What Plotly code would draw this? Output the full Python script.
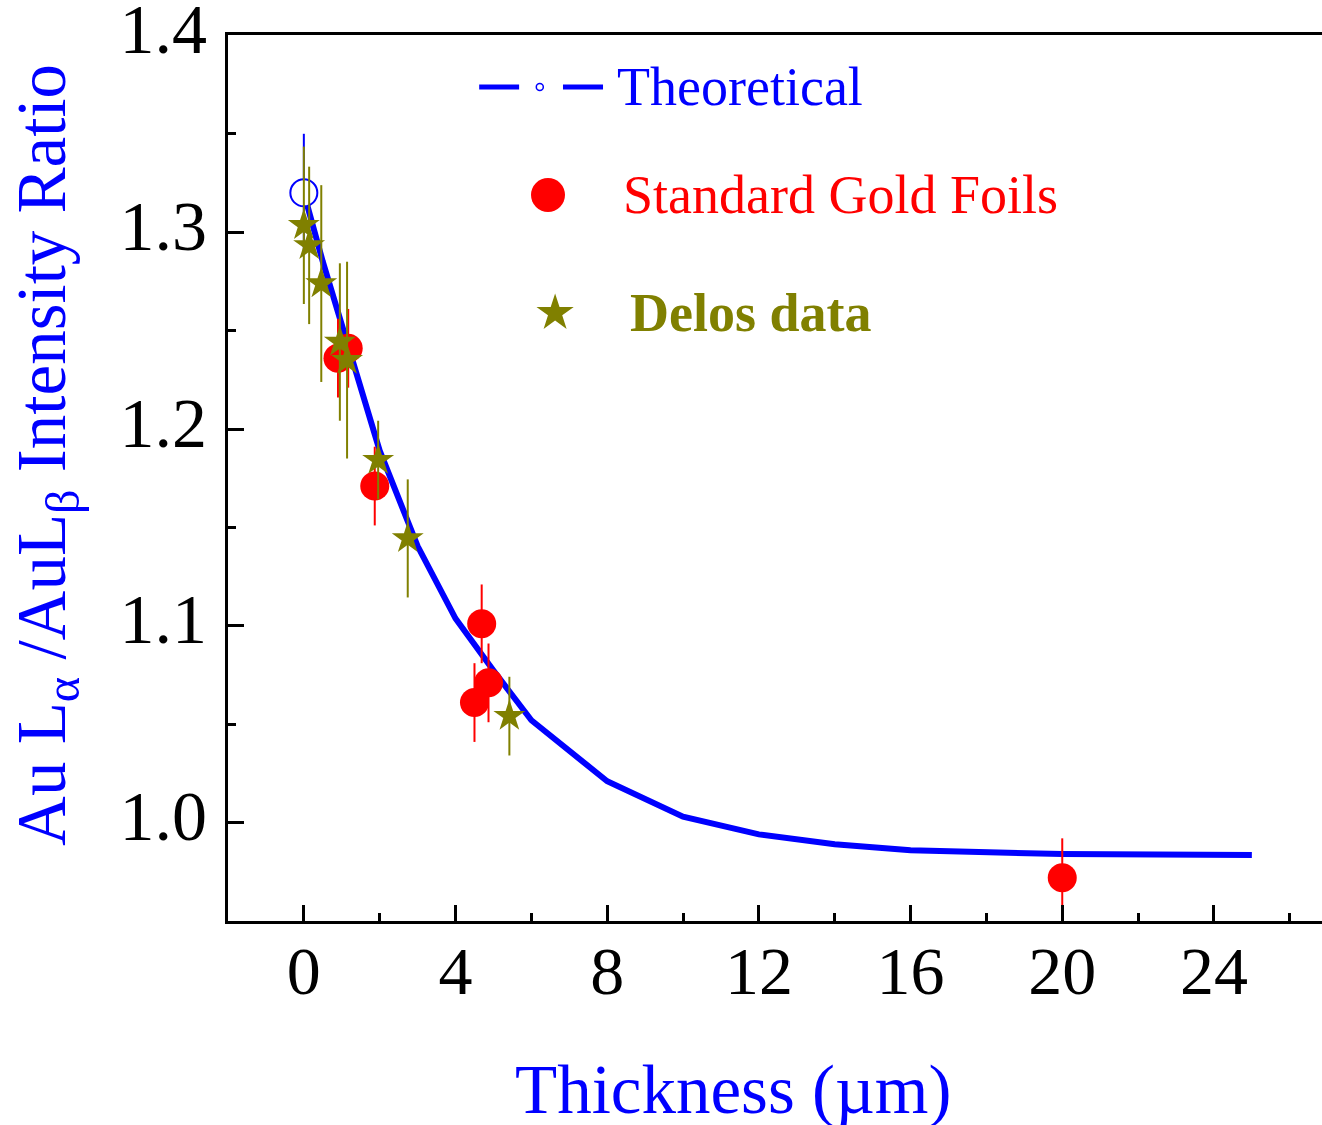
import plotly.graph_objects as go

# Theoretical Au La/Lb intensity ratio versus foil thickness
theo_x = [0, 0.5, 1, 1.5, 2, 3, 4, 5, 6, 8, 10, 12, 14, 16, 18, 20, 25]
theo_y = [1.32, 1.285, 1.253, 1.221, 1.189, 1.1405, 1.1037, 1.0773, 1.052,
          1.021, 1.003, 0.994, 0.989, 0.986, 0.985, 0.984, 0.9835]
theo_err0 = 0.03  # uncertainty on the zero-thickness theoretical value

# Measured standard gold foils
gold_x = [0.9, 1.17, 1.87, 4.5, 4.69, 4.87, 20]
gold_y = [1.236, 1.241, 1.171, 1.061, 1.101, 1.071, 0.972]
gold_err = [0.02, 0.02, 0.02, 0.02, 0.02, 0.02, 0.02]

# Delos data
delos_x = [0, 0.14, 0.46, 0.95, 1.14, 1.96, 2.74, 5.42]
delos_y = [1.3035, 1.2933, 1.2739, 1.2442, 1.235, 1.1842, 1.1444, 1.0541]
delos_err = [0.04, 0.04, 0.05, 0.04, 0.05, 0.02, 0.03, 0.02]

# Axis ticks
x_ticks = [0, 4, 8, 12, 16, 20, 24]
y_ticks = [1.0, 1.1, 1.2, 1.3, 1.4]

BLUE = "#0000FF"
RED = "#FF0000"
OLIVE = "#808000"
SERIF = "Liberation Serif, Times New Roman, serif"

fig = go.Figure()

fig.add_trace(go.Scatter(
    x=theo_x, y=theo_y, mode="lines",
    line=dict(color=BLUE, width=6), showlegend=False, hoverinfo="skip"))

fig.add_trace(go.Scatter(
    x=theo_x[:1], y=theo_y[:1], mode="markers",
    marker=dict(symbol="circle", size=27, color="white",
                line=dict(color=BLUE, width=2)),
    error_y=dict(type="data", array=[theo_err0], color=BLUE,
                 thickness=2, width=0),
    showlegend=False))

fig.add_trace(go.Scatter(
    x=gold_x, y=gold_y, mode="markers",
    marker=dict(symbol="circle", size=29, color=RED),
    error_y=dict(type="data", array=gold_err, color=RED,
                 thickness=2, width=0),
    showlegend=False))

fig.add_trace(go.Scatter(
    x=delos_x, y=delos_y, mode="markers",
    marker=dict(symbol="star", size=24, color=OLIVE),
    error_y=dict(type="data", array=delos_err, color=OLIVE,
                 thickness=2, width=0),
    showlegend=False))

# Legend keys, drawn on an overlay axis spanning the plot area as 0..1
key_x = [0.285, 0.2925, 0.299]
key_y = [0.9413, 0.8194, 0.6862]
fig.add_trace(go.Scatter(
    x=key_x[:1], y=key_y[:1], xaxis="x2", yaxis="y2", mode="markers",
    marker=dict(symbol="circle-open", size=7, color=BLUE,
                line=dict(width=1.5, color=BLUE)),
    showlegend=False, hoverinfo="skip"))
fig.add_trace(go.Scatter(
    x=key_x[1:2], y=key_y[1:2], xaxis="x2", yaxis="y2", mode="markers",
    marker=dict(symbol="circle", size=34, color=RED),
    showlegend=False, hoverinfo="skip"))
fig.add_trace(go.Scatter(
    x=key_x[2:], y=key_y[2:], xaxis="x2", yaxis="y2", mode="markers",
    marker=dict(symbol="star", size=28, color=OLIVE),
    showlegend=False, hoverinfo="skip"))

shapes = [
    dict(type="line", xref="paper", yref="paper",
         x0=0.2296, x1=0.2661, y0=key_y[0], y1=key_y[0],
         line=dict(color=BLUE, width=5)),
    dict(type="line", xref="paper", yref="paper",
         x0=0.3062, x1=0.3428, y0=key_y[0], y1=key_y[0],
         line=dict(color=BLUE, width=5)),
]

annotations = [
    dict(text="Theoretical", xref="paper", yref="paper", x=0.3537, y=key_y[0],
         xanchor="left", yanchor="middle", showarrow=False,
         font=dict(family=SERIF, size=54, color=BLUE)),
    dict(text="Standard Gold Foils", xref="paper", yref="paper", x=0.3590,
         y=key_y[1], xanchor="left", yanchor="middle", showarrow=False,
         font=dict(family=SERIF, size=54, color=RED)),
    dict(text="<b>Delos data</b>", xref="paper", yref="paper", x=0.3660,
         y=key_y[2], xanchor="left", yanchor="middle", showarrow=False,
         font=dict(family=SERIF, size=54, color=OLIVE)),
    dict(text="Thickness (µm)", xref="paper", yref="paper", x=0.4616, y=-0.191,
         xanchor="center", yanchor="middle", showarrow=False,
         font=dict(family=SERIF, size=69, color=BLUE)),
    dict(text="Au L<sub>α</sub> /AuL<sub>β</sub> Intensity Ratio",
         xref="paper", yref="paper", x=-0.1655, y=0.526, textangle=-90,
         xanchor="center", yanchor="middle", showarrow=False,
         font=dict(family=SERIF, size=69, color=BLUE)),
]

fig.update_layout(
    width=1322, height=1125,
    margin=dict(l=228, r=0, t=35, b=204, pad=0, autoexpand=False),
    paper_bgcolor="white", plot_bgcolor="white",
    showlegend=False,
    shapes=shapes, annotations=annotations,
    xaxis=dict(
        range=[-2, 26.85], tickvals=x_ticks, ticktext=[str(v) for v in x_ticks],
        ticks="inside", ticklen=16, tickwidth=3, tickcolor="black",
        showline=True, linewidth=3, linecolor="black", mirror=True,
        showgrid=False, zeroline=False, ticklabelstandoff=-12,
        automargin=False,
        tickfont=dict(family=SERIF, size=68, color="black"),
        minor=dict(ticks="inside", ticklen=8, tickwidth=3, tickcolor="black",
                   tick0=0, dtick=2, showgrid=False),
    ),
    yaxis=dict(
        range=[0.95, 1.4002], tickvals=y_ticks,
        ticktext=[f"{v:.1f}" for v in y_ticks],
        ticks="inside", ticklen=16, tickwidth=3, tickcolor="black",
        showline=True, linewidth=3, linecolor="black", mirror=False,
        showgrid=False, zeroline=False, ticklabelstandoff=4,
        ticklabelshift=-7, ticklabeloverflow="allow", automargin=False,
        tickfont=dict(family=SERIF, size=70, color="black"),
        minor=dict(ticks="inside", ticklen=8, tickwidth=3, tickcolor="black",
                   tick0=1.0, dtick=0.05, showgrid=False),
    ),
    xaxis2=dict(overlaying="x", anchor="y2", range=[0, 1], visible=False,
                fixedrange=True, automargin=False),
    yaxis2=dict(overlaying="y", anchor="x2", range=[0, 1], visible=False,
                fixedrange=True, automargin=False),
)

fig.write_html("out.html")
